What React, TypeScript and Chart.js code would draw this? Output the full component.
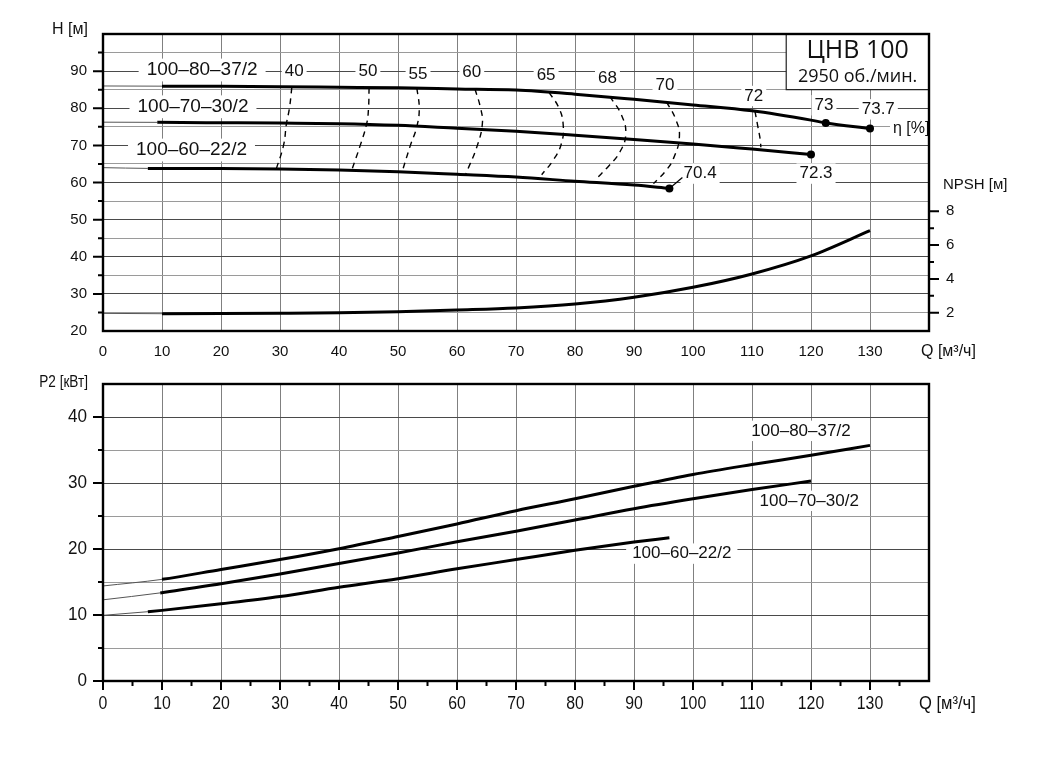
import { useEffect, useRef } from 'react';
import { Chart, registerables } from 'chart.js';

Chart.register(...registerables);

const SANS = '"Liberation Sans", Arial, sans-serif';
const HUMAN = '"Open Sans", "Noto Sans", sans-serif';

// ---------- верхний график: H(Q), NPSH(Q) ----------
const qTickValues = [0, 10, 20, 30, 40, 50, 60, 70, 80, 90, 100, 110, 120, 130, 140];
const hTickValues = [20, 25, 30, 35, 40, 45, 50, 55, 60, 65, 70, 75, 80, 85, 90, 95, 100];
const npshTickValues = [2, 4, 6, 8];
const npshMinorTicks = [3, 5, 7];

const qH80 = [0, 10, 20, 30, 40, 50, 60, 70, 80, 90, 100, 110, 120, 122.5, 130];
const h80 = [86.0, 85.95, 85.9, 85.8, 85.65, 85.5, 85.2, 84.9, 83.8, 82.4, 80.9, 79.3, 76.8, 76.05, 74.55];

const qH70 = [0, 9.2, 20, 30, 40, 50, 60, 70, 80, 90, 100, 110, 120];
const h70 = [76.25, 76.2, 76.1, 76.0, 75.85, 75.4, 74.6, 73.8, 72.75, 71.6, 70.4, 69.0, 67.55];

const qH60 = [0, 7.6, 20, 30, 40, 50, 60, 70, 80, 90, 96];
const h60 = [64.0, 63.8, 63.75, 63.65, 63.4, 62.9, 62.2, 61.45, 60.35, 59.3, 58.4];

const qNpsh = [0, 10, 20, 30, 40, 50, 60, 70, 80, 90, 100, 110, 120, 130];
const npsh = [1.96, 1.94, 1.95, 1.97, 2.0, 2.06, 2.16, 2.28, 2.51, 2.91, 3.5, 4.29, 5.36, 6.85];

// линии равного КПД (пунктир)
const e40Q = [32.0, 31.6, 31.1, 30.6, 29.4];
const e40H = [85.6, 80, 75.9, 70, 63.8];
const e50Q = [45.1, 45.0, 44.7, 43.6, 42.15];
const e50H = [85.5, 80, 75.9, 70, 63.3];
const e55Q = [53.2, 53.6, 53.2, 52.1, 50.7];
const e55H = [85.4, 80, 75.1, 70, 62.9];
const e60Q = [63.05, 64.0, 64.3, 63.45, 61.5];
const e60H = [85.2, 80, 75.9, 70, 62.3];
const e65Q = [75.6, 77.3, 78.0, 77.7, 76.3, 74.35];
const e65H = [84.3, 80, 75.5, 70.5, 66, 62.1];
const e68Q = [85.9, 87.9, 88.6, 87.6, 85.8, 83.6];
const e68H = [83.2, 78.1, 73, 68.2, 64.6, 61.0];
const e70Q = [95.5, 97.0, 97.7, 96.7, 95.3, 93.3];
const e70H = [81.7, 77.3, 72.5, 66.5, 63, 59.7];
const e72Q = [110.5, 111.0, 111.4, 111.5];
const e72H = [79.2, 75, 71.5, 69.5];

// подписи КПД и моделей: [текст, Q, H]
const effLabels: [string, number, number][] = [
  ['40', 32.4, 90.0],
  ['50', 44.9, 90.0],
  ['55', 53.4, 89.2],
  ['60', 62.5, 89.7],
  ['65', 75.1, 88.9],
  ['68', 85.5, 88.0],
  ['70', 95.25, 86.2],
  ['72', 110.3, 83.3],
  ['73', 122.2, 80.8],
  ['73.7', 131.4, 79.7],
  ['70.4', 101.2, 62.4],
  ['72.3', 120.85, 62.4],
];
const modelLabelsTop: [string, number, number][] = [
  ['100–80–37/2', 16.8, 90.3],
  ['100–70–30/2', 15.25, 80.4],
  ['100–60–22/2', 15.0, 68.75],
];

// ---------- нижний график: P2(Q) ----------
const pTickValues = [0, 5, 10, 15, 20, 25, 30, 35, 40, 45];

const qP80 = [0, 10, 20, 30, 40, 50, 60, 70, 80, 90, 100, 110, 120, 130];
const p80 = [14.4, 15.4, 16.9, 18.4, 20.05, 21.9, 23.8, 25.8, 27.6, 29.5, 31.3, 32.8, 34.2, 35.7];
const qP70 = [0, 9.7, 20, 30, 40, 50, 60, 70, 80, 90, 100, 110, 120];
const p70 = [12.3, 13.35, 14.75, 16.2, 17.8, 19.4, 21.1, 22.7, 24.4, 26.1, 27.6, 29.0, 30.3];
const qP60 = [0, 7.6, 10, 20, 30, 40, 50, 60, 70, 80, 90, 96];
const p60 = [9.95, 10.5, 10.7, 11.7, 12.8, 14.2, 15.5, 17.0, 18.4, 19.8, 21.05, 21.7];

const modelLabelsBottom: [string, number, number][] = [
  ['100–80–37/2', 118.3, 37.9],
  ['100–70–30/2', 119.7, 27.3],
  ['100–60–22/2', 98.1, 19.3],
];

const toXY = (xs: number[], ys: number[]) => xs.map((x, i) => ({ x, y: ys[i] }));

// сплошная кривая: тонкий серый участок в начале, затем толстая чёрная линия
const curve = (xs: number[], ys: number[], thinUntil: number, marks: number[] = [], yAxisID = 'y') => ({
  data: toXY(xs, ys),
  yAxisID,
  borderColor: '#000',
  borderWidth: 3,
  cubicInterpolationMode: 'monotone',
  pointRadius: (c: any) => (marks.includes(xs[c.dataIndex]) ? 4 : 0),
  pointBackgroundColor: '#000',
  pointBorderWidth: 0,
  segment: {
    borderWidth: (s: any) => (s.p1.parsed.x <= thinUntil + 0.01 ? 1 : 3),
    borderColor: (s: any) => (s.p1.parsed.x <= thinUntil + 0.01 ? '#555' : '#000'),
  },
});

const iso = (xs: number[], ys: number[]) => ({
  data: toXY(xs, ys),
  borderColor: '#000',
  borderWidth: 1.4,
  borderDash: [6, 5],
  tension: 0.45,
  pointRadius: 0,
});

function boxText(ctx: CanvasRenderingContext2D, text: string, x: number, y: number, font: string, size: number, padX: number, align: CanvasTextAlign = 'center') {
  ctx.save();
  ctx.font = `${size}px ${font}`;
  const w = ctx.measureText(text).width;
  const left = align === 'center' ? x - w / 2 : align === 'left' ? x : x - w;
  ctx.fillStyle = '#fff';
  ctx.fillRect(left - padX, y - size * 0.6, w + padX * 2, size * 1.2);
  ctx.fillStyle = '#111';
  ctx.textAlign = align;
  ctx.textBaseline = 'middle';
  ctx.fillText(text, x, y);
  ctx.restore();
}

// текст с горизонтальным сжатием (узкий шрифт нижнего графика)
function plainText(ctx: CanvasRenderingContext2D, text: string, x: number, y: number, font: string, size: number, align: CanvasTextAlign, sx = 1) {
  ctx.save();
  ctx.font = `${size}px ${font}`;
  ctx.fillStyle = '#111';
  ctx.textAlign = align;
  ctx.textBaseline = 'middle';
  ctx.translate(x, y);
  ctx.scale(sx, 1);
  ctx.fillText(text, 0, 0);
  ctx.restore();
}

function tickMarks(ctx: CanvasRenderingContext2D, chart: any, scale: any, values: number[], len: number, side: 'left' | 'right' | 'bottom') {
  const a = chart.chartArea;
  ctx.save();
  ctx.strokeStyle = '#000';
  ctx.lineWidth = 2;
  ctx.beginPath();
  values.forEach((v) => {
    const p = scale.getPixelForValue(v);
    if (side === 'left') { ctx.moveTo(a.left, p); ctx.lineTo(a.left - len, p); }
    if (side === 'right') { ctx.moveTo(a.right, p); ctx.lineTo(a.right + len, p); }
    if (side === 'bottom') { ctx.moveTo(p, a.bottom); ctx.lineTo(p, a.bottom + len); }
  });
  ctx.stroke();
  ctx.restore();
}

function frame(ctx: CanvasRenderingContext2D, a: any) {
  ctx.save();
  ctx.strokeStyle = '#000';
  ctx.lineWidth = 2.4;
  ctx.strokeRect(a.left, a.top, a.right - a.left, a.bottom - a.top);
  ctx.restore();
}

const CLEAR = 'rgba(0,0,0,0)';

const topDeco = {
  id: 'topDeco',
  beforeDatasetsDraw(chart: any) {
    const { ctx, scales } = chart;
    const a = chart.chartArea;
    const x = scales.x, y = scales.y;
    modelLabelsTop.forEach(([t, q, h]) => boxText(ctx, t, x.getPixelForValue(q), y.getPixelForValue(h), SANS, 19, 8));
    effLabels.forEach(([t, q, h]) => boxText(ctx, t, x.getPixelForValue(q), y.getPixelForValue(h), SANS, 17, 3));
    boxText(ctx, 'η [%]', x.getPixelForValue(133.9), y.getPixelForValue(74.45), SANS, 16, 3, 'left');
    // табличка с названием
    const bl = x.getPixelForValue(115.8);
    const bb = y.getPixelForValue(85);
    ctx.save();
    ctx.fillStyle = '#fff';
    ctx.fillRect(bl, a.top, a.right - bl, bb - a.top);
    ctx.strokeStyle = '#222';
    ctx.lineWidth = 1.2;
    ctx.beginPath();
    ctx.moveTo(bl, a.top);
    ctx.lineTo(bl, bb);
    ctx.lineTo(a.right, bb);
    ctx.stroke();
    ctx.restore();
    const cx = (bl + a.right) / 2;
    plainText(ctx, 'ЦНВ 100', cx, a.top + 17, HUMAN, 25, 'center');
    plainText(ctx, '2950 об./мин.', cx, a.top + 43, HUMAN, 18, 'center');
  },
  afterDatasetsDraw(chart: any) {
    const { ctx, scales } = chart;
    const a = chart.chartArea;
    frame(ctx, a);
    tickMarks(ctx, chart, scales.y, hTickValues.filter((v) => v % 10 === 0 && v > 20 && v < 100), 10, 'left');
    tickMarks(ctx, chart, scales.y, hTickValues.filter((v) => v % 10 !== 0), 5, 'left');
    tickMarks(ctx, chart, scales.y2, npshTickValues, 10, 'right');
    tickMarks(ctx, chart, scales.y2, npshMinorTicks, 5, 'right');
    // выноска к 70.4
    const dx = scales.x.getPixelForValue(96), dy = scales.y.getPixelForValue(58.4);
    ctx.save();
    ctx.strokeStyle = '#000';
    ctx.lineWidth = 1.2;
    ctx.beginPath();
    ctx.moveTo(dx, dy);
    ctx.lineTo(dx + 13, dy - 11);
    ctx.stroke();
    ctx.restore();
    plainText(ctx, 'H [м]', a.left - 15, a.top - 4, SANS, 16, 'right');
    plainText(ctx, 'Q [м³/ч]', a.right - 8, a.bottom + 21, SANS, 16, 'left');
    plainText(ctx, 'NPSH [м]', a.right + 14, scales.y2.getPixelForValue(8) - 26, SANS, 15, 'left');
  },
};

const bottomDeco = {
  id: 'bottomDeco',
  beforeDatasetsDraw(chart: any) {
    const { ctx, scales } = chart;
    modelLabelsBottom.forEach(([t, q, p]) => boxText(ctx, t, scales.x.getPixelForValue(q), scales.y.getPixelForValue(p), SANS, 17, 6));
  },
  afterDatasetsDraw(chart: any) {
    const { ctx, scales } = chart;
    const a = chart.chartArea;
    frame(ctx, a);
    tickMarks(ctx, chart, scales.y, pTickValues.filter((v) => v % 10 === 0), 10, 'left');
    tickMarks(ctx, chart, scales.y, pTickValues.filter((v) => v % 10 !== 0 && v < 45), 5, 'left');
    tickMarks(ctx, chart, scales.x, qTickValues.filter((v) => v < 140), 9, 'bottom');
    tickMarks(ctx, chart, scales.x, qTickValues.filter((v) => v < 140).map((v) => v + 5), 5, 'bottom');
    // подписи делений узким начертанием
    qTickValues.filter((v) => v <= 130).forEach((v) =>
      plainText(ctx, String(v), scales.x.getPixelForValue(v), a.bottom + 23, SANS, 18, 'center', 0.88));
    pTickValues.filter((v) => v % 10 === 0).forEach((v) =>
      plainText(ctx, String(v), a.left - 16, scales.y.getPixelForValue(v), SANS, 18, 'right', 0.95));
    plainText(ctx, 'P2 [кВт]', a.left - 15, a.top - 2, SANS, 17, 'right', 0.8);
    plainText(ctx, 'Q [м³/ч]', a.right - 10, a.bottom + 23, SANS, 18, 'left', 0.92);
  },
};

const xScale = (showLabels: boolean, padding: number, height: number) => ({
  type: 'linear',
  min: 0,
  max: 140,
  afterBuildTicks: (s: any) => { s.ticks = qTickValues.map((value) => ({ value })); },
  afterFit: (s: any) => { s.height = height; },
  border: { display: false },
  grid: {
    drawTicks: false,
    color: (c: any) => (c.tick.value === 0 || c.tick.value === 140 ? CLEAR : '#808080'),
    lineWidth: 1,
  },
  ticks: {
    display: showLabels,
    autoSkip: false,
    maxRotation: 0,
    padding,
    color: '#111',
    font: { family: SANS, size: 15 },
    callback: (v: any) => (v <= 130 ? String(v) : ''),
  },
});

function TopChart() {
  const ref = useRef<HTMLCanvasElement>(null);
  useEffect(() => {
    if (!ref.current) return;
    const chart = new Chart(ref.current, {
      type: 'line',
      data: {
        datasets: [
          curve(qH80, h80, 10, [122.5, 130]),
          curve(qH70, h70, 9.2, [120]),
          curve(qH60, h60, 7.6, [96]),
          curve(qNpsh, npsh, 10, [], 'y2'),
          iso(e40Q, e40H),
          iso(e50Q, e50H),
          iso(e55Q, e55H),
          iso(e60Q, e60H),
          iso(e65Q, e65H),
          iso(e68Q, e68H),
          iso(e70Q, e70H),
          iso(e72Q, e72H),
        ] as any,
      },
      options: {
        animation: false,
        responsive: false,
        maintainAspectRatio: false,
        layout: { padding: { top: 34, left: 0, right: 0, bottom: 0 } },
        plugins: { legend: { display: false }, tooltip: { enabled: false } },
        scales: {
          x: xScale(true, 12, 29),
          y: {
            type: 'linear',
            min: 20,
            max: 100,
            afterBuildTicks: (s: any) => { s.ticks = hTickValues.map((value) => ({ value })); },
            afterFit: (s: any) => { s.width = 103; },
            border: { display: false },
            grid: {
              drawTicks: false,
              color: (c: any) => {
                const v = c.tick.value;
                if (v === 20 || v === 100) return CLEAR;
                return v % 10 === 0 ? '#4a4a4a' : '#9a9a9a';
              },
              lineWidth: 1,
            },
            ticks: {
              autoSkip: false,
              padding: 16,
              color: '#111',
              font: { family: SANS, size: 15 },
              callback: (v: any) => (v % 10 === 0 && v < 100 ? String(v) : ''),
            },
          },
          y2: {
            type: 'linear',
            position: 'right',
            min: 0.917,
            max: 18.49,
            afterBuildTicks: (s: any) => { s.ticks = npshTickValues.map((value) => ({ value })); },
            afterFit: (s: any) => { s.width = 111; },
            border: { display: false },
            grid: { drawOnChartArea: false, drawTicks: false },
            ticks: {
              autoSkip: false,
              padding: 17,
              color: '#111',
              font: { family: SANS, size: 15 },
            },
          },
        } as any,
      },
      plugins: [topDeco],
    });
    return () => chart.destroy();
  }, []);
  return <canvas ref={ref} width={1040} height={360} style={{ position: 'absolute', left: 0, top: 0, display: 'block' }} />;
}

function BottomChart() {
  const ref = useRef<HTMLCanvasElement>(null);
  useEffect(() => {
    if (!ref.current) return;
    const chart = new Chart(ref.current, {
      type: 'line',
      data: {
        datasets: [
          curve(qP80, p80, 10),
          curve(qP70, p70, 9.7),
          curve(qP60, p60, 7.6),
        ] as any,
      },
      options: {
        animation: false,
        responsive: false,
        maintainAspectRatio: false,
        layout: { padding: { top: 24, left: 0, right: 111, bottom: 0 } },
        plugins: { legend: { display: false }, tooltip: { enabled: false } },
        scales: {
          x: xScale(false, 13, 79),
          y: {
            type: 'linear',
            min: 0,
            max: 45,
            afterBuildTicks: (s: any) => { s.ticks = pTickValues.map((value) => ({ value })); },
            afterFit: (s: any) => { s.width = 103; },
            border: { display: false },
            grid: {
              drawTicks: false,
              color: (c: any) => {
                const v = c.tick.value;
                if (v === 0 || v === 45) return CLEAR;
                return v % 10 === 0 ? '#4a4a4a' : '#9a9a9a';
              },
              lineWidth: 1,
            },
            ticks: { display: false },
          },
        } as any,
      },
      plugins: [bottomDeco],
    });
    return () => chart.destroy();
  }, []);
  return <canvas ref={ref} width={1040} height={400} style={{ position: 'absolute', left: 0, top: 360, display: 'block' }} />;
}

export default function App() {
  return (
    <div style={{ position: 'fixed', left: 0, top: 0, width: 1040, height: 760, background: '#fff' }}>
      <TopChart />
      <BottomChart />
    </div>
  );
}
